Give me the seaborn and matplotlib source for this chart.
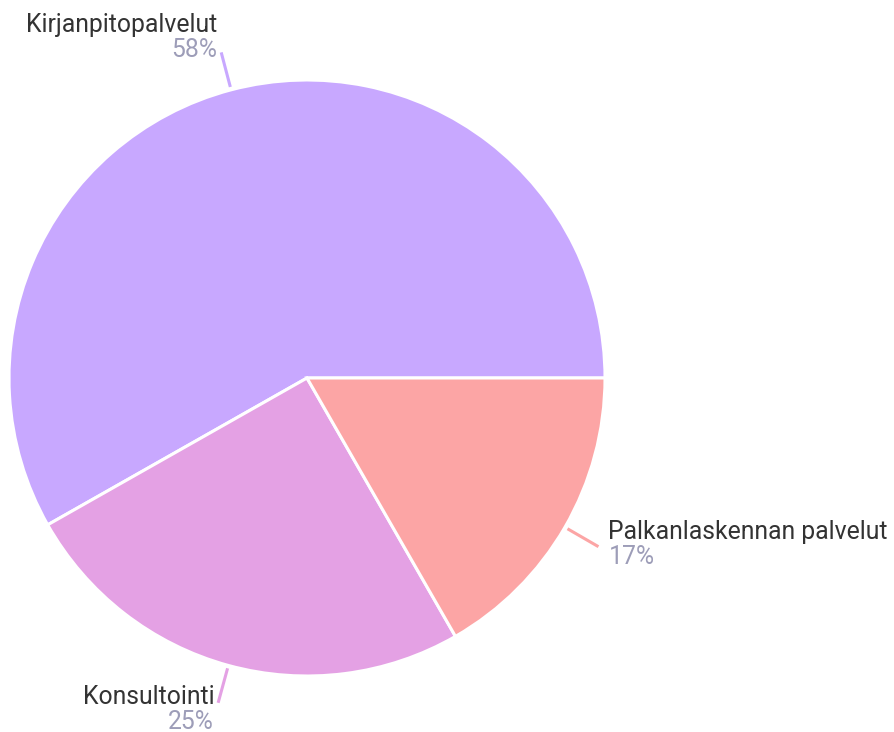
import numpy as np
import matplotlib
matplotlib.use("Agg")
import matplotlib.pyplot as plt
import seaborn as sns

labels = ["Kirjanpitopalvelut", "Konsultointi", "Palkanlaskennan palvelut"]
shares = [58.2, 25.1, 16.7]
colors = ["#c8a8ff", "#e4a1e4", "#fca5a5"]

sns.set_theme(style="white")
plt.rcParams["font.family"] = ["Roboto", "DejaVu Sans"]

fig = plt.figure(figsize=(8.94, 7.32), dpi=100)
ax = fig.add_axes([0, 0, 1, 1])

wedges, _ = ax.pie(shares, colors=colors, startangle=0, counterclock=True,
                   radius=1, wedgeprops=dict(edgecolor="white", linewidth=2.2))

# 1 data unit = 298 px, center at (307, 378) px
ax.set_xlim(-307 / 298, (894 - 307) / 298)
ax.set_ylim(-(732 - 378) / 298, 378 / 298)
ax.set_aspect("auto")
ax.axis("off")

px = 1 / 298
for w, lab, pct, col in zip(wedges, labels, shares, colors):
    ang = np.deg2rad((w.theta1 + w.theta2) / 2)
    c, s = np.cos(ang), np.sin(ang)
    # leader line
    ax.plot([1.01 * c, 1.13 * c], [1.01 * s, 1.13 * s], color=col, lw=2.2,
            solid_capstyle="butt")
    ex, ey = 1.13 * c, 1.13 * s
    ha = "left" if c > 0 else "right"
    dx = 10 * px if c > 0 else -4 * px
    name_y = ey + (21.1 + 10.8 * s - 4.8 * s * s) * px
    ax.text(ex + dx, name_y, lab, ha=ha, va="center", fontsize=17.8, color="#333333")
    ax.text(ex + dx, name_y - 25 * px, f"{round(pct)}%", ha=ha, va="center",
            fontsize=17.8, color="#9d9db8")

fig.savefig("out.png", dpi=100)
